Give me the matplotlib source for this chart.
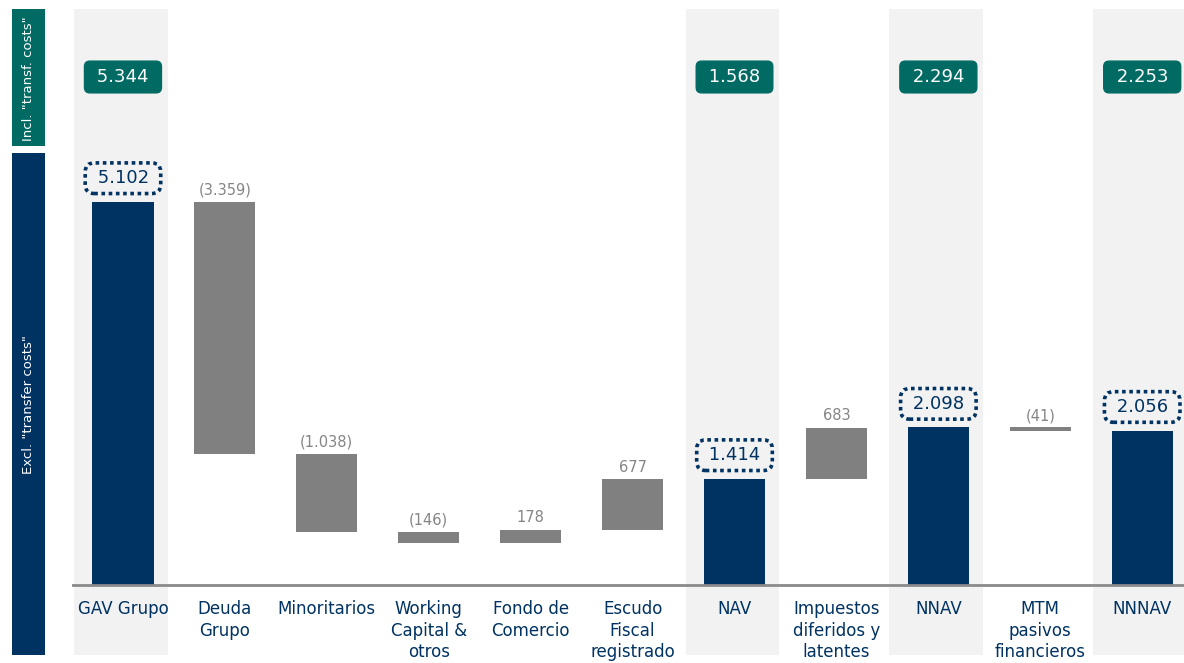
import numpy as np
import matplotlib.pyplot as plt
from matplotlib.patches import Rectangle

# ---- data
categories = ["GAV Grupo", "Deuda\nGrupo", "Minoritarios", "Working\nCapital &\notros",
              "Fondo de\nComercio", "Escudo\nFiscal\nregistrado", "NAV",
              "Impuestos\ndiferidos y\nlatentes", "NNAV", "MTM\npasivos\nfinancieros", "NNNAV"]
values = [5102, -3359, -1038, -146, 178, 677, 1414, 683, 2098, -41, 2056]
is_total = [True, False, False, False, False, False, True, False, True, False, True]
labels = ["5.102", "(3.359)", "(1.038)", "(146)", "178", "677", "1.414",
          "683", "2.098", "(41)", "2.056"]
incl_labels = {0: "5.344", 6: "1.568", 8: "2.294", 10: "2.253"}

navy = "#003262"
teal = "#006A63"
grey = "#808080"
band = "#f2f2f2"

W, H = 1184, 663
fig = plt.figure(figsize=(W / 100, H / 100), dpi=100)

# axes spans from the left of the chart to the right edge, full height
base_px = 585          # baseline, pixels from top
ppu = 0.0751           # pixels per unit
ax = fig.add_axes([72 / W, 0, 1 - 72 / W, 1])
ax.set_xlim(-0.5, 10.41)
ax.set_ylim(-(H - base_px) / ppu, base_px / ppu)
ax.axis("off")

def py(p):
    """pixel row (from top) -> data y"""
    return (base_px - p) / ppu

x = np.arange(len(categories))
bw = 0.6

# compute waterfall bottoms / tops
bottoms, tops = [], []
running = 0
for v, t in zip(values, is_total):
    if t:
        bottoms.append(0)
        tops.append(v)
        running = v
    else:
        bottoms.append(running)
        running = running + v
        tops.append(running)

# grey bands behind totals
for i, t in enumerate(is_total):
    if t:
        ax.add_patch(Rectangle((i - 0.48, py(655)), 0.92, py(9) - py(655),
                               color=band, zorder=0, lw=0))

# bars
for i in range(len(values)):
    lo, hi = min(bottoms[i], tops[i]), max(bottoms[i], tops[i])
    col = navy if is_total[i] else grey
    ax.bar(x[i], hi - lo, bottom=lo, width=bw, color=col, zorder=2)

ax.axhline(0, color="#8a8a8a", lw=2, zorder=3)

# value labels
for i in range(len(values)):
    hi = max(bottoms[i], tops[i])
    if is_total[i]:
        ax.annotate(" " + labels[i] + " ", (x[i], hi), xytext=(0, 17),
                    textcoords="offset points", ha="center", va="center",
                    fontsize=13, color=navy, zorder=4,
                    bbox=dict(boxstyle="round,pad=0.35,rounding_size=0.5", fc="none",
                              ec=navy, ls=(0, (1, 1)), lw=2.6))
    else:
        ax.annotate(labels[i], (x[i], hi), xytext=(0, 3), textcoords="offset points",
                    ha="center", va="bottom", fontsize=10.5, color="#858585", zorder=4)

# incl. transfer cost boxes
for i, txt in incl_labels.items():
    ax.text(x[i], py(77), " " + txt + " ", ha="center", va="center", fontsize=13,
            color="white", zorder=4,
            bbox=dict(boxstyle="round,pad=0.38,rounding_size=0.3",
                      fc=teal, ec=teal, lw=1))

# category labels
for i, c in enumerate(categories):
    ax.text(x[i], py(600), c, ha="center", va="top", fontsize=12, color=navy,
            linespacing=1.25, zorder=4)

# left side markers
fig.patches.append(Rectangle((12 / W, 1 - 146 / H), 33 / W, 137 / H,
                             transform=fig.transFigure, color=teal, lw=0))
fig.patches.append(Rectangle((12 / W, 1 - 655 / H), 33 / W, 502 / H,
                             transform=fig.transFigure, color=navy, lw=0))
fig.text(29 / W, 1 - 79 / H, 'Incl. "transf. costs"', rotation=90, ha="center",
         va="center", color="white", fontsize=9.5)
fig.text(29 / W, 1 - 405 / H, 'Excl. "transfer costs"', rotation=90, ha="center",
         va="center", color="white", fontsize=9.5)

fig.savefig("out.png", dpi=100)
